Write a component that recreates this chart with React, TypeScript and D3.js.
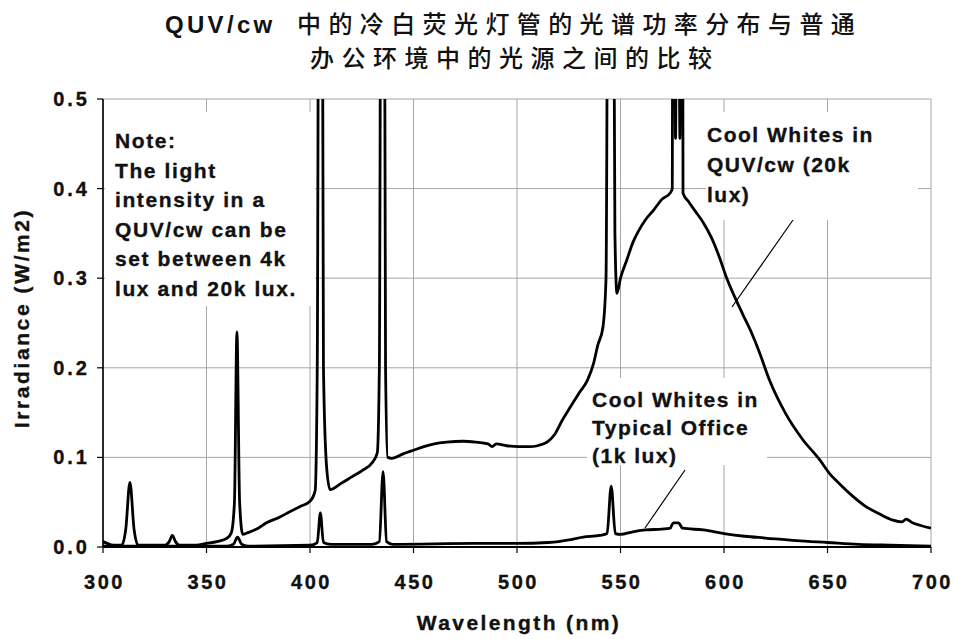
import React from "react";
import * as d3 from "d3";

const quvWl = [300, 302, 305, 309, 311, 313, 315, 317, 330, 332, 333.5, 335, 337, 345, 350, 355, 360, 362, 363.5, 364.7, 366, 367.5, 370, 375, 379, 385, 390, 395, 400, 402.5, 403.5, 405, 406.5, 408, 409.7, 415, 420, 425, 430, 432.5, 433.5, 435, 436.5, 437.5, 439.5, 445, 450, 455, 460, 466, 474, 480, 486, 488, 490, 495, 501, 506, 510, 514.5, 518, 522, 526, 530, 534, 537, 539, 541.5, 543, 545, 547.3, 548.3, 550, 553, 556, 559, 562, 566, 570, 574, 575, 575.5, 576.6, 577.6, 578.7, 579.7, 580.2, 583, 587, 590, 594, 598, 601, 605, 609, 613.5, 617, 622, 630, 638, 646, 651, 656, 662, 668, 675, 681.6, 686, 688, 691, 695, 700];
const quvVal = [0.006, 0.004, 0.002, 0.002, 0.02, 0.072, 0.02, 0.002, 0.002, 0.006, 0.013, 0.006, 0.002, 0.002, 0.004, 0.006, 0.01, 0.016, 0.05, 0.24, 0.05, 0.014, 0.016, 0.021, 0.027, 0.033, 0.039, 0.045, 0.051, 0.063, 0.2, 1.5, 0.2, 0.09, 0.064, 0.071, 0.078, 0.085, 0.094, 0.105, 0.2, 1.5, 0.2, 0.1, 0.099, 0.104, 0.108, 0.112, 0.115, 0.117, 0.118, 0.117, 0.115, 0.112, 0.115, 0.113, 0.112, 0.112, 0.113, 0.117, 0.125, 0.142, 0.157, 0.172, 0.186, 0.205, 0.225, 0.245, 0.3, 1.5, 0.35, 0.283, 0.3, 0.32, 0.34, 0.354, 0.365, 0.376, 0.388, 0.395, 0.4, 1.2, 0.456, 1.2, 0.456, 1.2, 0.395, 0.385, 0.372, 0.362, 0.345, 0.322, 0.302, 0.28, 0.26, 0.238, 0.218, 0.186, 0.148, 0.12, 0.098, 0.082, 0.07, 0.057, 0.046, 0.037, 0.03, 0.028, 0.031, 0.027, 0.024, 0.021];

const officeWl = [300, 330, 360, 363, 365, 367, 370, 400, 403.5, 405, 406.5, 410, 430, 433.5, 435.3, 437, 440, 480, 500, 515, 520, 525, 532, 540, 543.5, 545.5, 547.5, 550, 556, 562, 570, 574, 575.5, 578, 580, 590, 600, 610, 620, 635, 650, 665, 680, 700];
const officeVal = [0.001, 0.001, 0.001, 0.003, 0.011, 0.003, 0.001, 0.002, 0.005, 0.038, 0.005, 0.003, 0.003, 0.006, 0.084, 0.006, 0.003, 0.004, 0.004, 0.005, 0.006, 0.008, 0.011, 0.013, 0.015, 0.068, 0.015, 0.014, 0.017, 0.019, 0.02, 0.021, 0.027, 0.027, 0.021, 0.019, 0.015, 0.012, 0.01, 0.007, 0.005, 0.003, 0.002, 0.001];

const xTicks = [300, 350, 400, 450, 500, 550, 600, 650, 700];
const yTicks = [0, 0.1, 0.2, 0.3, 0.4, 0.5];

const titleLatin = "QUV/cw";
const titleLine1 = "中的冷白荧光灯管的光谱功率分布与普通";
const titleLine2 = "办公环境中的光源之间的比较";
const xTitle = "Wavelength (nm)";
const yTitle = "Irradiance (W/m2)";
const noteLines = ["Note:", "The light", "intensity in a", "QUV/cw can be", "set between 4k", "lux and 20k lux."];
const quvLabel = ["Cool Whites in", "QUV/cw (20k", "lux)"];
const officeLabel = ["Cool Whites in", "Typical Office", "(1k lux)"];

const LATIN = "'Liberation Sans', Arial, Helvetica, sans-serif";
const CJK = "'Noto Sans CJK SC', sans-serif";

export default function App() {
  const W = 954, H = 639;
  const L = 103, R = 931, T = 99, B = 547;
  const x = d3.scaleLinear().domain([300, 700]).range([L, R]);
  const y = d3.scaleLinear().domain([0, 0.5]).range([B, T]);
  const line = d3.line<[number, number]>().x(d => x(d[0])).y(d => y(d[1])).curve(d3.curveMonotoneX);
  const quv = quvWl.map((w, i) => [w, quvVal[i]] as [number, number]);
  const off = officeWl.map((w, i) => [w, officeVal[i]] as [number, number]);
  const grid = "#a6a6a6";
  const lab = { fontFamily: LATIN, fontWeight: 700, fill: "#111", stroke: "#111", strokeWidth: 0.35 } as const;

  return (
    <svg width={W} height={H} style={{ position: "absolute", left: 0, top: 0, background: "#fff" }}>
      <defs>
        <clipPath id="plot"><rect x={L} y={T} width={R - L} height={B - T} /></clipPath>
      </defs>
      <rect x={0} y={0} width={W} height={H} fill="#fff" />
      {/* title */}
      <text x={165} y={33} fontSize={24}>
        <tspan fontFamily={LATIN} fontWeight={700} letterSpacing={3.3} fill="#111">{titleLatin}</tspan>
        <tspan x={297} fontFamily={CJK} fontWeight={500} letterSpacing={7.4} fill="#111">{titleLine1}</tspan>
      </text>
      <text x={310} y={67} fontSize={24} fontFamily={CJK} fontWeight={500} letterSpacing={7.5} fill="#111">{titleLine2}</text>

      {/* grid */}
      {xTicks.map(t => <line key={"gx" + t} x1={x(t)} x2={x(t)} y1={T} y2={B} stroke={grid} strokeWidth={1} />)}
      {yTicks.map(t => <line key={"gy" + t} x1={L} x2={R} y1={y(t)} y2={y(t)} stroke={grid} strokeWidth={1} />)}

      {/* white label backgrounds */}
      <rect x={L + 2} y={112} width={210} height={194} fill="#fff" />
      <rect x={706} y={112} width={212} height={108} fill="#fff" />
      <rect x={587} y={378} width={180} height={87} fill="#fff" />

      {/* axes */}
      <line x1={L} x2={L} y1={T} y2={B} stroke="#000" strokeWidth={1.6} />
      <line x1={L} x2={R} y1={B} y2={B} stroke="#000" strokeWidth={1.8} />
      {yTicks.map(t => <line key={"ty" + t} x1={L - 6} x2={L} y1={y(t)} y2={y(t)} stroke="#000" strokeWidth={1.2} />)}
      {xTicks.map(t => <line key={"tx" + t} x1={x(t)} x2={x(t)} y1={B} y2={B + 6} stroke="#000" strokeWidth={1.2} />)}

      {/* curves */}
      <g clipPath="url(#plot)">
        <path d={line(off) || ""} fill="none" stroke="#000" strokeWidth={2.8} strokeLinejoin="round" />
        <path d={line(quv) || ""} fill="none" stroke="#000" strokeWidth={2.8} strokeLinejoin="round" />
      </g>

      {/* tick labels */}
      {yTicks.map(t => (
        <text key={"ly" + t} x={90} y={y(t) + 7} textAnchor="end" fontSize={20} letterSpacing={3} {...lab}>{t.toFixed(1)}</text>
      ))}
      {xTicks.map(t => (
        <text key={"lx" + t} x={x(t) + 1.5} y={589} textAnchor="middle" fontSize={20} letterSpacing={2.6} {...lab}>{t}</text>
      ))}

      {/* axis titles */}
      <text x={519} y={630} textAnchor="middle" fontSize={21} letterSpacing={2.4} {...lab}>{xTitle}</text>
      <text transform={`translate(29,318) rotate(-90)`} textAnchor="middle" fontSize={21} letterSpacing={2.6} {...lab}>{yTitle}</text>

      {/* annotations */}
      {noteLines.map((s, i) => (
        <text key={"n" + i} x={115} y={148 + i * 29.5} fontSize={21} letterSpacing={1.6} {...lab}>{s}</text>
      ))}
      {quvLabel.map((s, i) => (
        <text key={"q" + i} x={707} y={142 + i * 30} fontSize={21} letterSpacing={1.5} {...lab}>{s}</text>
      ))}
      {officeLabel.map((s, i) => (
        <text key={"o" + i} x={592} y={407 + i * 28} fontSize={21} letterSpacing={1.5} {...lab}>{s}</text>
      ))}
      <line x1={793} y1={220} x2={732} y2={307} stroke="#000" strokeWidth={1.2} />
      <line x1={685} y1={470} x2={645} y2={528} stroke="#000" strokeWidth={1.2} />
    </svg>
  );
}
